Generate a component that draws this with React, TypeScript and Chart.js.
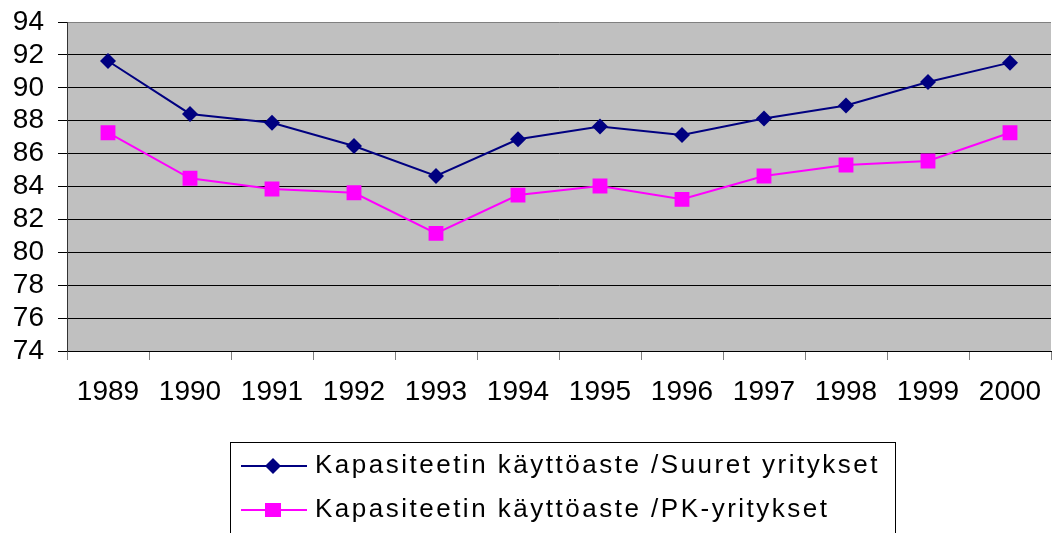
import React, { useEffect, useRef } from "react";
import { Chart, registerables } from "chart.js";

Chart.register(...registerables);

const years = ["1989", "1990", "1991", "1992", "1993", "1994", "1995", "1996", "1997", "1998", "1999", "2000"];
const suuret = [91.63, 88.41, 87.88, 86.46, 84.64, 86.87, 87.64, 87.13, 88.14, 88.93, 90.35, 91.53];
const pk = [87.27, 84.5, 83.85, 83.62, 81.15, 83.48, 84.03, 83.22, 84.64, 85.31, 85.55, 87.27];
const seriesNames = ["Kapasiteetin käyttöaste /Suuret yritykset", "Kapasiteetin käyttöaste /PK-yritykset"];
const yMin = 74;
const yMax = 94;
const yStep = 2;

const FONT = "'Liberation Sans', Arial, sans-serif";

const bgPlugin = {
  id: "bgPlugin",
  beforeDraw(chart: any) {
    const { ctx, chartArea } = chart;
    ctx.save();
    ctx.fillStyle = "#ffffff";
    ctx.fillRect(0, 0, chart.width, chart.height);
    ctx.fillStyle = "#C0C0C0";
    ctx.fillRect(chartArea.left, chartArea.top, chartArea.right - chartArea.left, chartArea.bottom - chartArea.top);
    ctx.restore();
  },
};

const legendPlugin = {
  id: "boxLegend",
  afterDraw(chart: any) {
    const { ctx } = chart;
    ctx.save();
    ctx.strokeStyle = "#000000";
    ctx.lineWidth = 1;
    ctx.strokeRect(230.5, 442.5, 665, 200);
    const rows = [466, 510];
    chart.data.datasets.forEach((ds: any, i: number) => {
      const y = rows[i];
      ctx.strokeStyle = ds.borderColor;
      ctx.lineWidth = 2;
      ctx.beginPath();
      ctx.moveTo(241, y);
      ctx.lineTo(307, y);
      ctx.stroke();
      ctx.fillStyle = ds.backgroundColor;
      if (ds.pointStyle === "rectRot") {
        ctx.beginPath();
        ctx.moveTo(273, y - 8);
        ctx.lineTo(281, y);
        ctx.lineTo(273, y + 8);
        ctx.lineTo(265, y);
        ctx.closePath();
        ctx.fill();
      } else {
        ctx.fillRect(265, y - 7, 16, 14);
      }
      ctx.fillStyle = "#000000";
      ctx.font = `26px ${FONT}`;
      (ctx as any).letterSpacing = "2.5px";
      ctx.textBaseline = "middle";
      ctx.textAlign = "left";
      ctx.fillText(ds.label, 315, y);
      (ctx as any).letterSpacing = "0px";
    });
    ctx.restore();
  },
};

export default function App() {
  const ref = useRef<HTMLCanvasElement | null>(null);
  useEffect(() => {
    if (!ref.current) return;
    const chart = new Chart(ref.current, {
      type: "line",
      data: {
        labels: years,
        datasets: [
          {
            label: seriesNames[0],
            data: suuret,
            borderColor: "#000080",
            backgroundColor: "#000080",
            borderWidth: 2,
            pointStyle: "rectRot",
            pointRadius: 8,
            pointBorderWidth: 0,
            pointBackgroundColor: "#000080",
            tension: 0,
          },
          {
            label: seriesNames[1],
            data: pk,
            borderColor: "#FF00FF",
            backgroundColor: "#FF00FF",
            borderWidth: 2,
            pointStyle: "rect",
            pointRadius: 10.5,
            pointBorderWidth: 0,
            pointBackgroundColor: "#FF00FF",
            tension: 0,
          },
        ],
      },
      options: {
        responsive: false,
        animation: false,
        layout: { autoPadding: false, padding: { top: 22, right: 1, left: 0, bottom: 0 } },
        plugins: { legend: { display: false }, tooltip: { enabled: false } },
        scales: {
          x: {
            type: "category",
            offset: true,
            afterFit(scale: any) {
              scale.height = 182;
              scale.paddingLeft = 0;
              scale.paddingRight = 0;
            },
            grid: {
              offset: true,
              drawOnChartArea: false,
              drawTicks: true,
              tickLength: 9,
              tickColor: "#808080",
            },
            border: { display: true, color: "#000000", width: 1 },
            ticks: {
              color: "#000000",
              font: { family: FONT, size: 28 },
              padding: 15,
              maxRotation: 0,
              autoSkip: false,
            },
          },
          y: {
            min: yMin,
            max: yMax,
            afterFit(scale: any) {
              scale.width = 67;
              scale.paddingTop = 0;
              scale.paddingBottom = 0;
            },
            grid: {
              color: (c: any) => (c.tick && c.tick.value === yMax ? "#808080" : "#000000"),
              lineWidth: 1,
              drawTicks: true,
              tickLength: 9,
              tickColor: "#000000",
            },
            border: { display: true, color: "#333333", width: 1 },
            ticks: {
              stepSize: yStep,
              autoSkip: false,
              color: "#000000",
              font: { family: FONT, size: 28 },
              padding: 14,
            },
          },
        },
      },
      plugins: [bgPlugin, legendPlugin],
    });
    return () => chart.destroy();
  }, []);
  return (
    <div style={{ position: "absolute", left: 0, top: 0, width: 1052, height: 533, background: "#fff" }}>
      <canvas ref={ref} width={1052} height={533} style={{ display: "block" }} />
    </div>
  );
}
